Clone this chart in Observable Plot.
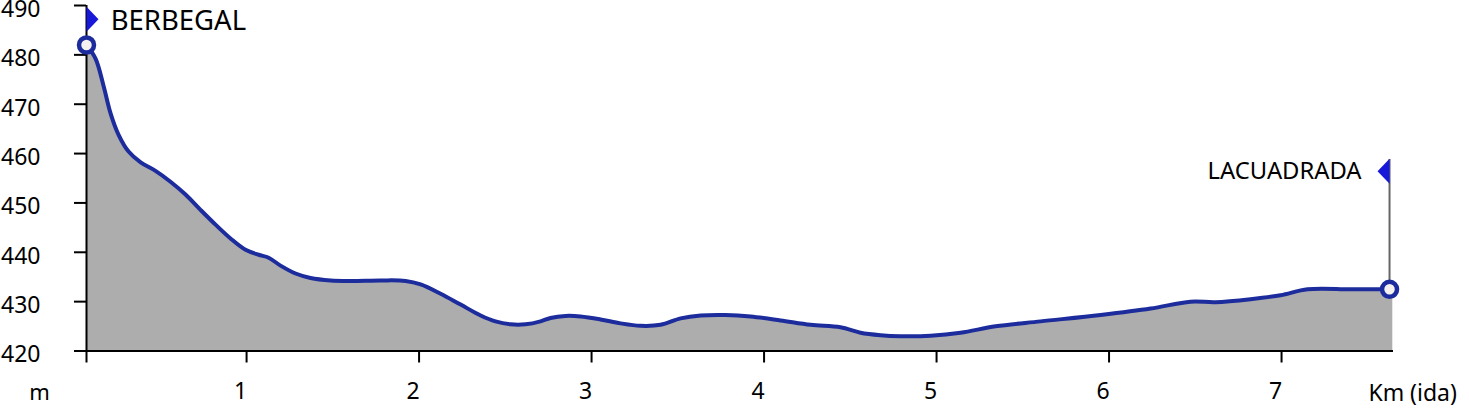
<!DOCTYPE html>
<html><head><meta charset="utf-8">
<script src="https://cdn.jsdelivr.net/npm/d3@7"></script>
<script src="https://cdn.jsdelivr.net/npm/@observablehq/plot@0.6"></script>
<style>html,body{margin:0;padding:0;background:#fff}svg{display:block}</style>
</head><body><div id="c"></div>
<script>
const km = [0.072,0.125,0.171,0.212,0.258,0.316,0.386,0.472,0.559,0.646,0.733,0.820,0.907,0.994,1.070,1.128,1.197,1.284,1.371,1.487,1.603,1.777,1.922,2.009,2.125,2.241,2.357,2.443,2.530,2.617,2.704,2.762,2.849,2.936,3.052,3.168,3.284,3.400,3.516,3.632,3.777,3.922,4.096,4.270,4.443,4.559,4.675,4.791,4.965,5.139,5.342,5.603,5.951,6.241,6.472,6.617,6.820,6.994,7.151,7.400,7.626];
const alt = [482.0,479.2,473.7,468.1,463.8,460.4,458.2,456.5,454.3,451.7,448.6,445.6,442.8,440.5,439.5,438.9,437.3,435.7,434.8,434.3,434.2,434.3,434.2,433.5,431.6,429.4,427.2,426.0,425.4,425.4,426.0,426.7,427.1,427.0,426.4,425.6,425.1,425.3,426.6,427.2,427.3,427.0,426.2,425.3,424.8,423.7,423.2,423.0,423.1,423.7,425.0,426.0,427.3,428.6,430.0,429.9,430.5,431.3,432.5,432.5,432.5];
const xTicks = [0.072,1,2,3,4,5,6,7];
const xLabels = [1,2,3,4,5,6,7];
const yTicks = [420,430,440,450,460,470,480,490];
const places = ["BERBEGAL","LACUADRADA"];
const placeKm = [0.072,7.626];
const placeAlt = [482.0,432.5];
const flagAlt = [487.2,456.4];
const labelKm = [0.212,7.464];
const labelSize = [27.5,23.8];
const fillEndKm = 7.645;

const line = km.map((x,i)=>({x,y:alt[i]}));
const fill = line.concat([{x:fillEndKm,y:alt[alt.length-1]}]);
const flagRight = {draw(c){c.moveTo(0,-12.5);c.lineTo(12,0);c.lineTo(0,12.5);c.closePath();}};
const flagLeft = {draw(c){c.moveTo(0,-12.5);c.lineTo(-12,0);c.lineTo(0,12.5);c.closePath();}};
const font = "'Noto Sans',sans-serif";

const chart = Plot.plot({
  width:1469,height:419,
  marginLeft:86,marginRight:76,marginTop:5,marginBottom:68.5,
  style:{fontFamily:font,background:"#fff"},
  x:{domain:[0.072,7.649]},
  y:{domain:[420,490]},
  marks:[
    Plot.areaY(fill,{x:"x",y1:420,y2:"y",fill:"#adadad",curve:"catmull-rom"}),
    Plot.ruleX([placeKm[1]],{y1:placeAlt[1],y2:flagAlt[1]+2.4,stroke:"#666",strokeWidth:2}),
    Plot.axisY({ticks:yTicks,tickSize:12,tickFormat:()=>"",label:null,strokeWidth:2,strokeOpacity:1,stroke:"#000"}),
    Plot.axisY({ticks:yTicks,tickSize:0,tickPadding:46,label:null,fontSize:23,fill:"#000",dy:4,lineAnchor:"middle"}),
    Plot.axisX({ticks:xTicks,tickSize:12,tickFormat:()=>"",label:null,strokeWidth:2,strokeOpacity:1,stroke:"#000"}),
    Plot.axisX({ticks:xLabels,tickSize:0,tickPadding:32,label:null,fontSize:23,fill:"#000",dx:-6}),
    Plot.ruleX([0.072],{y1:420,y2:490,stroke:"#000",strokeWidth:2}),
    Plot.ruleY([420],{x1:0.072,x2:7.649,stroke:"#000",strokeWidth:2}),
    Plot.line(line,{x:"x",y:"y",stroke:"#1c2c9c",strokeWidth:4,curve:"catmull-rom"}),
    Plot.dot([0],{x:()=>placeKm[0],y:()=>flagAlt[0],symbol:flagRight,r:5,fill:"#1818d8",stroke:"none"}),
    Plot.dot([0],{x:()=>placeKm[1],y:()=>flagAlt[1],symbol:flagLeft,r:5,fill:"#1818d8",stroke:"none"}),
    Plot.dot(places,{x:(d,i)=>placeKm[i],y:(d,i)=>placeAlt[i],r:7.5,fill:"#f6f1f1",stroke:"#1c2c9c",strokeWidth:4.5}),
    Plot.text([places[0]],{x:()=>labelKm[0],y:()=>flagAlt[0]-0.4,text:d=>d,textAnchor:"start",fontSize:labelSize[0],fill:"#000"}),
    Plot.text([places[1]],{x:()=>labelKm[1],y:()=>flagAlt[1],text:d=>d,textAnchor:"end",fontSize:labelSize[1],fill:"#000"}),
    Plot.text(["m"],{x:()=>-0.2,y:()=>411.6,text:d=>d,fontSize:22,fill:"#000"}),
    Plot.text(["Km (ida)"],{x:()=>7.76,y:()=>411.4,text:d=>d,fontSize:23,fill:"#000"})
  ]
});
document.getElementById("c").append(chart);
</script></body></html>
